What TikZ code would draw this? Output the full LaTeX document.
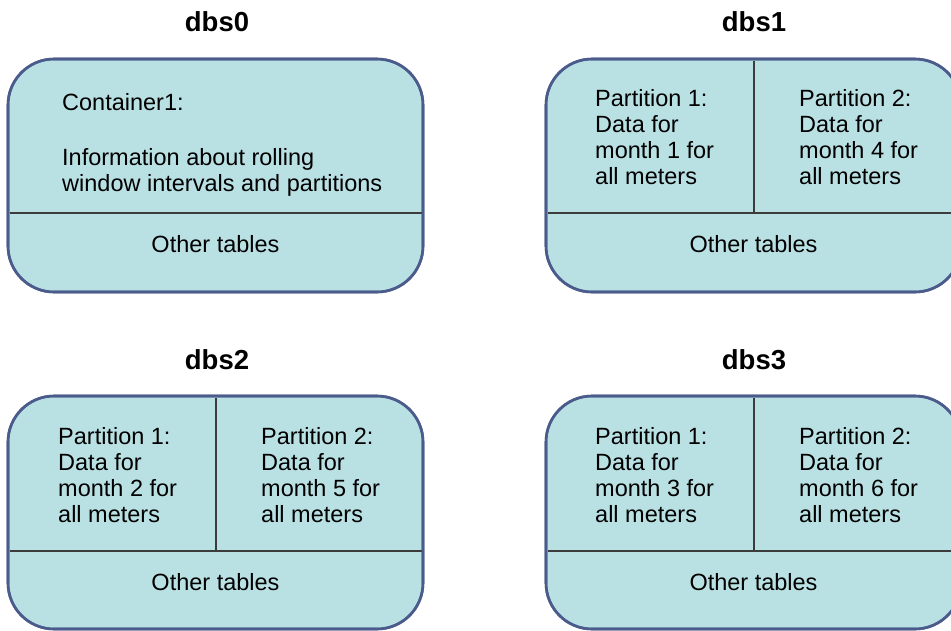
\documentclass[tikz,border=0pt]{standalone}
\usepackage{fontspec}
\setmainfont{Liberation Sans}
\definecolor{boxfill}{HTML}{B9E1E4}
\definecolor{boxline}{HTML}{4A5B8C}
\definecolor{divline}{HTML}{3C3C3C}
\begin{document}
\begin{tikzpicture}[x=1pt,y=-1pt,
  dbbox/.style={draw=boxline, fill=boxfill, line width=2.6pt, rounded corners=46pt,
    minimum width=415pt, minimum height=233pt, inner sep=0pt},
  divider/.style={draw=divline, line width=1.6pt},
  title/.style={font=\fontsize{27.5}{30}\selectfont\bfseries, anchor=base, inner sep=0pt},
  body/.style={font=\fontsize{23.5}{26}\selectfont, align=left, anchor=base west, inner sep=0pt},
  other/.style={font=\fontsize{23.5}{26}\selectfont, anchor=base, inner sep=0pt}]
\useasboundingbox (0,0) rectangle (951,630);
\begin{scope}
\clip (0,0) rectangle (951,630);
% boxes
\node[dbbox] (b0) at (215.5,175.5) {};
\node[dbbox] (b1) at (753.5,175.5) {};
\node[dbbox] (b2) at (215.5,512.5) {};
\node[dbbox] (b3) at (753.5,512.5) {};
% dividers
\coordinate (h0l) at (9.5,213);  \coordinate (h0r) at (421.5,213);
\coordinate (h1l) at (547.5,213); \coordinate (h1r) at (959.5,213);
\coordinate (h2l) at (9.5,551);  \coordinate (h2r) at (421.5,551);
\coordinate (h3l) at (547.5,551); \coordinate (h3r) at (959.5,551);
\coordinate (v1t) at (754,60.5); \coordinate (v1b) at (754,213);
\coordinate (v2t) at (216,397.5); \coordinate (v2b) at (216,551);
\coordinate (v3t) at (754,397.5); \coordinate (v3b) at (754,551);
\draw[divider] (h0l) -- (h0r);
\draw[divider] (h1l) -- (h1r);
\draw[divider] (h2l) -- (h2r);
\draw[divider] (h3l) -- (h3r);
\draw[divider] (v1t) -- (v1b);
\draw[divider] (v2t) -- (v2b);
\draw[divider] (v3t) -- (v3b);
% redraw borders on top
\node[dbbox, fill=none] at (b0.center) {};
\node[dbbox, fill=none] at (b1.center) {};
\node[dbbox, fill=none] at (b2.center) {};
\node[dbbox, fill=none] at (b3.center) {};
\end{scope}
% titles
\node[title] (t0) at (217,31) {dbs0};
\node[title] (t1) at (754,31) {dbs1};
\node[title] (t2) at (217,369) {dbs2};
\node[title] (t3) at (754,369) {dbs3};
% dbs0 (base anchor = baseline of last line)
\node[body] (c0a) at (62,110) {Container1:};
\node[body] (c0b) at (62,191) {Information about rolling\\window intervals and partitions};
\node[other] (o0) at (215.5,252) {Other tables};
% dbs1
\node[body] (p11) at (595,184) {Partition 1:\\Data for\\month 1 for\\all meters};
\node[body] (p12) at (799,184) {Partition 2:\\Data for\\month 4 for\\all meters};
\node[other] (o1) at (753.5,252) {Other tables};
% dbs2
\node[body] (p21) at (58,522) {Partition 1:\\Data for\\month 2 for\\all meters};
\node[body] (p22) at (261,522) {Partition 2:\\Data for\\month 5 for\\all meters};
\node[other] (o2) at (215.5,590) {Other tables};
% dbs3
\node[body] (p31) at (595,522) {Partition 1:\\Data for\\month 3 for\\all meters};
\node[body] (p32) at (799,522) {Partition 2:\\Data for\\month 6 for\\all meters};
\node[other] (o3) at (753.5,590) {Other tables};
\end{tikzpicture}
\end{document}
